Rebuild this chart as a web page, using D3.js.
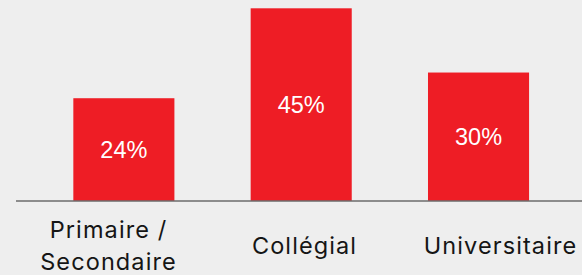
<!DOCTYPE html>
<html>
<head>
<meta charset="utf-8">
<script src="https://cdn.jsdelivr.net/npm/d3@7"></script>
<style>
  html, body { margin: 0; padding: 0; background: #eeeeee; }
  svg { display: block; }
</style>
</head>
<body>
<div id="chart"></div>
<script>
// chart data
var categories = [["Primaire /", "Secondaire"], ["Collégial"], ["Universitaire"]];
var values = [24, 45, 30];
var valueLabels = ["24%", "45%", "30%"];

var width = 582, height = 275;
var baseY = 201;

var svg = d3.select("#chart").append("svg")
  .attr("width", width)
  .attr("height", height);

svg.append("rect")
  .attr("width", width)
  .attr("height", height)
  .attr("fill", "#eeeeee");

var x = d3.scaleBand()
  .domain(d3.range(values.length))
  .range([35.2, 567.2])
  .paddingInner(0.43)
  .paddingOuter(0.215);

// the category labels sit in wider slots than the bars
var xLabel = d3.scaleBand()
  .domain(d3.range(values.length))
  .range([10, 598]);

var y = d3.scaleLinear()
  .domain([0, 45])
  .range([baseY, 8.3]);

var bars = svg.append("g").selectAll("g")
  .data(values)
  .enter()
  .append("g");

bars.append("rect")
  .attr("x", function(d, i) { return x(i); })
  .attr("y", function(d) { return y(d); })
  .attr("width", x.bandwidth())
  .attr("height", function(d) { return baseY - y(d); })
  .attr("fill", "#ee1d25");

bars.append("text")
  .attr("x", function(d, i) { return x(i) + x.bandwidth() / 2; })
  .attr("y", function(d) { return (y(d) + baseY) / 2; })
  .attr("dy", "0.36em")
  .attr("text-anchor", "middle")
  .attr("fill", "#ffffff")
  .style("font-family", "'Liberation Sans', Arial, sans-serif")
  .style("font-size", "23.5px")
  .text(function(d, i) { return valueLabels[i]; });

// baseline
svg.append("line")
  .attr("x1", 16)
  .attr("x2", width)
  .attr("y1", baseY)
  .attr("y2", baseY)
  .attr("stroke", "#6b6b6b")
  .attr("stroke-width", 1.6);

// category labels
var labels = svg.append("g").selectAll("text")
  .data(categories)
  .enter()
  .append("text")
  .attr("text-anchor", "middle")
  .attr("fill", "#151515")
  .style("font-family", "Inter, 'Noto Sans', sans-serif")
  .style("font-size", "23.5px")
  .style("letter-spacing", "1.1px")
  .attr("transform", function(d, i) {
    return "translate(" + (xLabel(i) + xLabel.bandwidth() / 2 + 0.5) + ",0)";
  });

labels.selectAll("tspan")
  .data(function(d) { return d.map(function(t, k) { return { t: t, k: k, n: d.length }; }); })
  .enter()
  .append("tspan")
  .attr("x", 0)
  .attr("y", function(d) { return 253.5 + (d.k - (d.n - 1) / 2) * 32; })
  .text(function(d) { return d.t; });
</script>
</body>
</html>
